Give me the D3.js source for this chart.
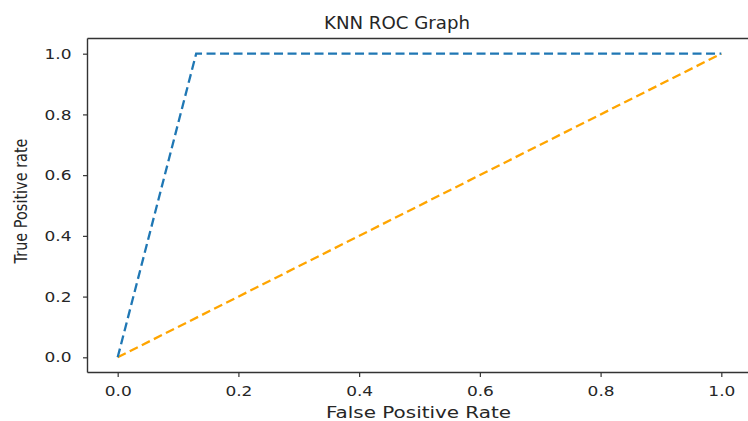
<!DOCTYPE html>
<html>
<head>
<meta charset="utf-8">
<script src="https://cdn.jsdelivr.net/npm/d3@7"></script>
<style>
  html, body { margin: 0; padding: 0; background: #fff; }
  svg { display: block; font-family: "DejaVu Sans", sans-serif; }
</style>
</head>
<body>
<svg id="chart" width="748" height="421"></svg>
<script>
// ROC curve of the KNN classifier and the chance diagonal
const fpr = [0, 0.13, 1];
const tpr = [0, 1, 1];
const chanceX = [0, 1];
const chanceY = [0, 1];
const xTicks = [0.0, 0.2, 0.4, 0.6, 0.8, 1.0];
const yTicks = [0.0, 0.2, 0.4, 0.6, 0.8, 1.0];

const svg = d3.select("#chart");
const plotLeft = 87.5, plotRight = 751.5, plotTop = 38.5, plotBottom = 372.5;

const x = d3.scaleLinear().domain([-0.05, 1.05]).range([plotLeft, plotRight]);
const y = d3.scaleLinear().domain([-0.05, 1.05]).range([plotBottom, plotTop]);

const textColor = "#262626";
const spineColor = "#333";

// widen glyphs horizontally to the target width
function stretch(sel, factor) {
  sel.each(function () {
    const w = this.getComputedTextLength();
    d3.select(this).attr("textLength", w * factor).attr("lengthAdjust", "spacingAndGlyphs");
  });
}

// x axis
const xAxis = svg.append("g")
  .attr("transform", `translate(0,${plotBottom})`)
  .call(d3.axisBottom(x).tickValues(xTicks).tickFormat(d3.format(".1f")).tickSize(4.5).tickPadding(8.5));
xAxis.select(".domain").remove();
xAxis.selectAll("line").attr("stroke", spineColor).attr("stroke-width", 1.2);
xAxis.selectAll("text").attr("fill", textColor).style("font-size", "14.5px")
  .style("font-family", "DejaVu Sans").call(stretch, 1.17);

// y axis
const yAxis = svg.append("g")
  .attr("transform", `translate(${plotLeft},0)`)
  .call(d3.axisLeft(y).tickValues(yTicks).tickFormat(d3.format(".1f")).tickSize(4.5).tickPadding(11.5));
yAxis.select(".domain").remove();
yAxis.selectAll("line").attr("stroke", spineColor).attr("stroke-width", 1.2);
yAxis.selectAll("text").attr("fill", textColor).style("font-size", "14.5px")
  .style("font-family", "DejaVu Sans").call(stretch, 1.17);

// spines: left, bottom, top (right one falls past the edge)
const spines = svg.append("g").attr("stroke", spineColor).attr("stroke-width", 1.4).attr("fill", "none");
spines.append("line").attr("x1", plotLeft).attr("x2", plotLeft).attr("y1", plotTop).attr("y2", plotBottom);
spines.append("line").attr("x1", plotLeft).attr("x2", plotRight).attr("y1", plotBottom).attr("y2", plotBottom);
spines.append("line").attr("x1", plotLeft).attr("x2", plotRight).attr("y1", plotTop).attr("y2", plotTop);

const line = d3.line().x(d => x(d[0])).y(d => y(d[1]));

svg.append("path")
  .datum(d3.zip(chanceX, chanceY))
  .attr("d", line)
  .attr("fill", "none")
  .attr("stroke", "#ffa500")
  .attr("stroke-width", 2.3)
  .attr("stroke-dasharray", "9,4.5");

svg.append("path")
  .datum(d3.zip(fpr, tpr))
  .attr("d", line)
  .attr("fill", "none")
  .attr("stroke", "#1f77b4")
  .attr("stroke-width", 2.3)
  .attr("stroke-dasharray", "9,4.5");

// title and axis labels
svg.append("text")
  .attr("x", 397).attr("y", 29)
  .attr("text-anchor", "middle")
  .attr("fill", textColor)
  .style("font-size", "17px")
  .attr("textLength", 146).attr("lengthAdjust", "spacingAndGlyphs")
  .text("KNN ROC Graph");

svg.append("text")
  .attr("x", 418.5).attr("y", 418)
  .attr("text-anchor", "middle")
  .attr("fill", textColor)
  .style("font-size", "15.5px")
  .attr("textLength", 185).attr("lengthAdjust", "spacingAndGlyphs")
  .text("False Positive Rate");

svg.append("text")
  .attr("transform", `translate(26.5,201) rotate(-90)`)
  .attr("text-anchor", "middle")
  .attr("fill", textColor)
  .style("font-size", "17px")
  .attr("textLength", 125).attr("lengthAdjust", "spacingAndGlyphs")
  .text("True Positive rate");
</script>
</body>
</html>
